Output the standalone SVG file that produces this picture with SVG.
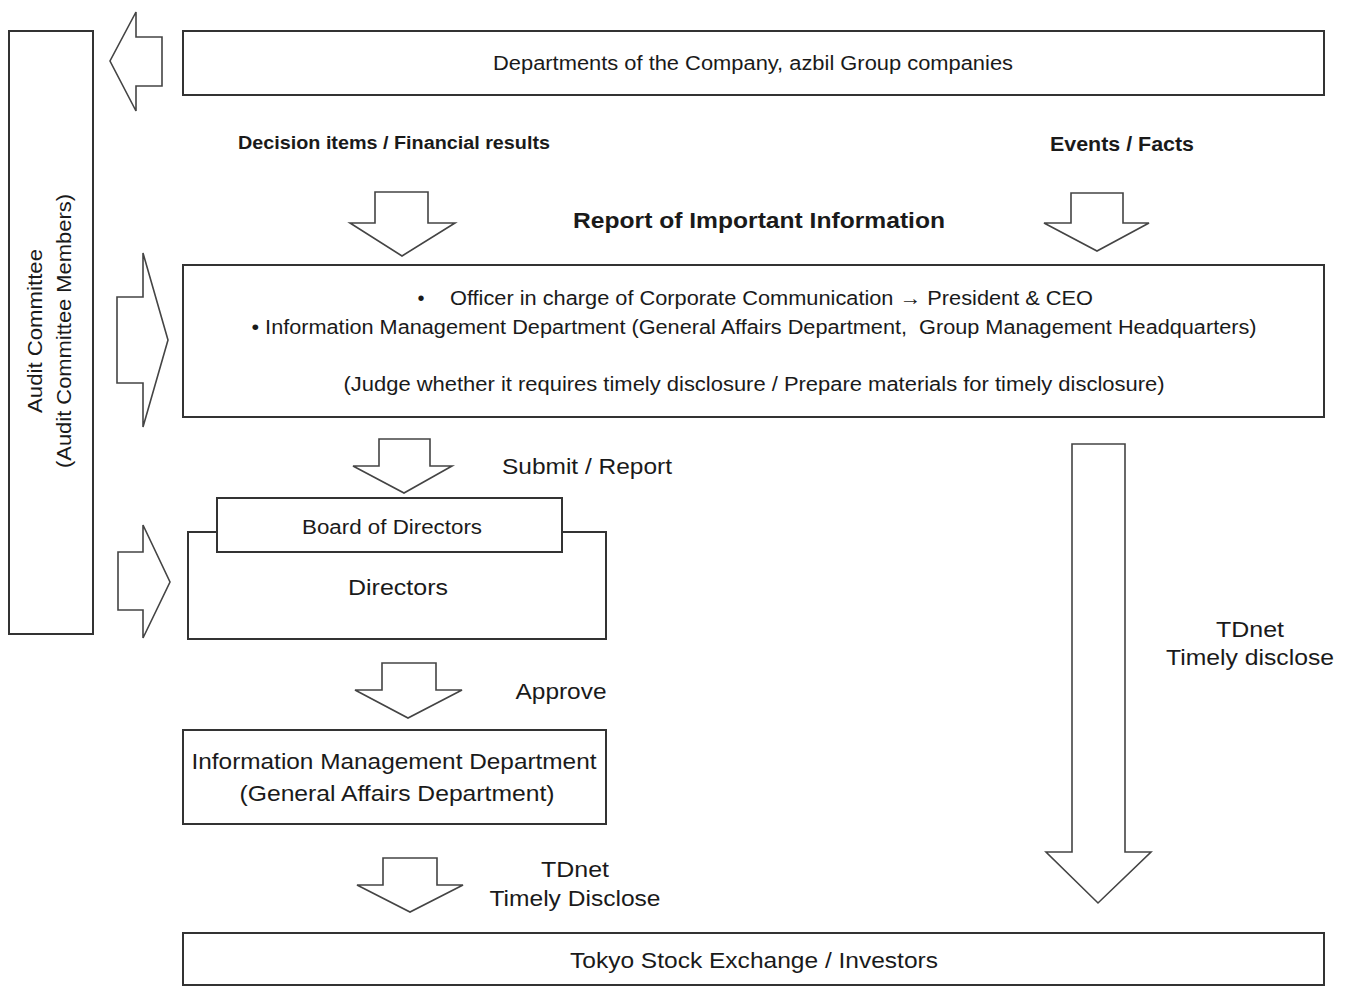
<svg xmlns="http://www.w3.org/2000/svg" width="1352" height="986" viewBox="0 0 1352 986">
<style>
.box{fill:#fff;stroke:#333;stroke-width:2}
.arr{fill:#fff;stroke:#444;stroke-width:1.6;stroke-linejoin:miter}
text{font-family:"Liberation Sans",Arial,sans-serif;fill:#1a1a1a;text-anchor:middle}
.b{font-weight:bold}
.s{text-anchor:start}
</style>
<rect width="1352" height="986" fill="#fff"/>
<g id="connectors">
<polygon class="arr" points="162,37 136,37 136,12 110,61 136,111 136,86 162,86"/>
<polygon class="arr" points="117,297 143,297 143,253 168,340 143,427 143,383 117,383"/>
<polygon class="arr" points="118,552 143,552 143,525 170,582 143,638 143,610 118,610"/>
<polygon class="arr" points="375,192 428,192 428,223 455,223 402,256 350,223 375,223"/>
<polygon class="arr" points="1071,193 1123,193 1123,223 1149,223 1097,251 1044,223 1071,223"/>
<polygon class="arr" points="379,439 430,439 430,466 452,466 404,493 353,466 379,466"/>
<polygon class="arr" points="382,663 436,663 436,690 462,690 408,718 355,690 382,690"/>
<polygon class="arr" points="383,858 437,858 437,885 463,885 410,912 357,885 383,885"/>
<polygon class="arr" points="1072,444 1125,444 1125,852 1151,852 1098,903 1046,852 1072,852"/>
</g>
<g id="audit">
<rect class="box" x="9" y="31" width="84" height="603"/>
<text transform="translate(42,331) rotate(-90)" font-size="20" textLength="164" lengthAdjust="spacingAndGlyphs">Audit Committee</text>
<text transform="translate(71,331) rotate(-90)" font-size="20" textLength="274" lengthAdjust="spacingAndGlyphs">(Audit Committee Members)</text>
</g>
<g id="departments">
<rect class="box" x="183" y="31" width="1141" height="64"/>
<text x="753" y="70" font-size="20" textLength="520" lengthAdjust="spacingAndGlyphs">Departments of the Company, azbil Group companies</text>
</g>
<g id="labels">
<text class="b" x="394" y="149" font-size="18" textLength="312" lengthAdjust="spacingAndGlyphs">Decision items / Financial results</text>
<text class="b" x="1122" y="151" font-size="20" textLength="144" lengthAdjust="spacingAndGlyphs">Events / Facts</text>
<text class="b" x="759" y="228" font-size="22" textLength="372" lengthAdjust="spacingAndGlyphs">Report of Important Information</text>
<text x="587" y="474" font-size="22" textLength="170" lengthAdjust="spacingAndGlyphs">Submit / Report</text>
<text x="561" y="699" font-size="22" textLength="91" lengthAdjust="spacingAndGlyphs">Approve</text>
<text x="575" y="877" font-size="22" textLength="68" lengthAdjust="spacingAndGlyphs">TDnet</text>
<text x="575" y="906" font-size="22" textLength="171" lengthAdjust="spacingAndGlyphs">Timely Disclose</text>
<text x="1250" y="637" font-size="22" textLength="68" lengthAdjust="spacingAndGlyphs">TDnet</text>
<text x="1250" y="665" font-size="22" textLength="168" lengthAdjust="spacingAndGlyphs">Timely disclose</text>
</g>
<g id="info">
<rect class="box" x="183" y="265" width="1141" height="152"/>
<text x="421" y="305" font-size="20">•</text>
<text class="s" x="450" y="305" font-size="20" textLength="643" lengthAdjust="spacingAndGlyphs">Officer in charge of Corporate Communication → President &amp; CEO</text>
<text x="754" y="334" font-size="20" xml:space="preserve" textLength="1005" lengthAdjust="spacingAndGlyphs">• Information Management Department (General Affairs Department,  Group Management Headquarters)</text>
<text x="754" y="391" font-size="20" textLength="821" lengthAdjust="spacingAndGlyphs">(Judge whether it requires timely disclosure / Prepare materials for timely disclosure)</text>
</g>
<g id="directors">
<rect class="box" x="188" y="532" width="418" height="107"/>
<text x="398" y="595" font-size="22" textLength="100" lengthAdjust="spacingAndGlyphs">Directors</text>
</g>
<g id="board">
<rect class="box" x="217" y="498" width="345" height="54"/>
<text x="392" y="534" font-size="20" textLength="180" lengthAdjust="spacingAndGlyphs">Board of Directors</text>
</g>
<g id="imd">
<rect class="box" x="183" y="730" width="423" height="94"/>
<text x="394" y="769" font-size="22" textLength="405" lengthAdjust="spacingAndGlyphs">Information Management Department</text>
<text x="397" y="801" font-size="22" textLength="315" lengthAdjust="spacingAndGlyphs">(General Affairs Department)</text>
</g>
<g id="tse">
<rect class="box" x="183" y="933" width="1141" height="52"/>
<text x="754" y="968" font-size="22" textLength="368" lengthAdjust="spacingAndGlyphs">Tokyo Stock Exchange / Investors</text>
</g>
</svg>
